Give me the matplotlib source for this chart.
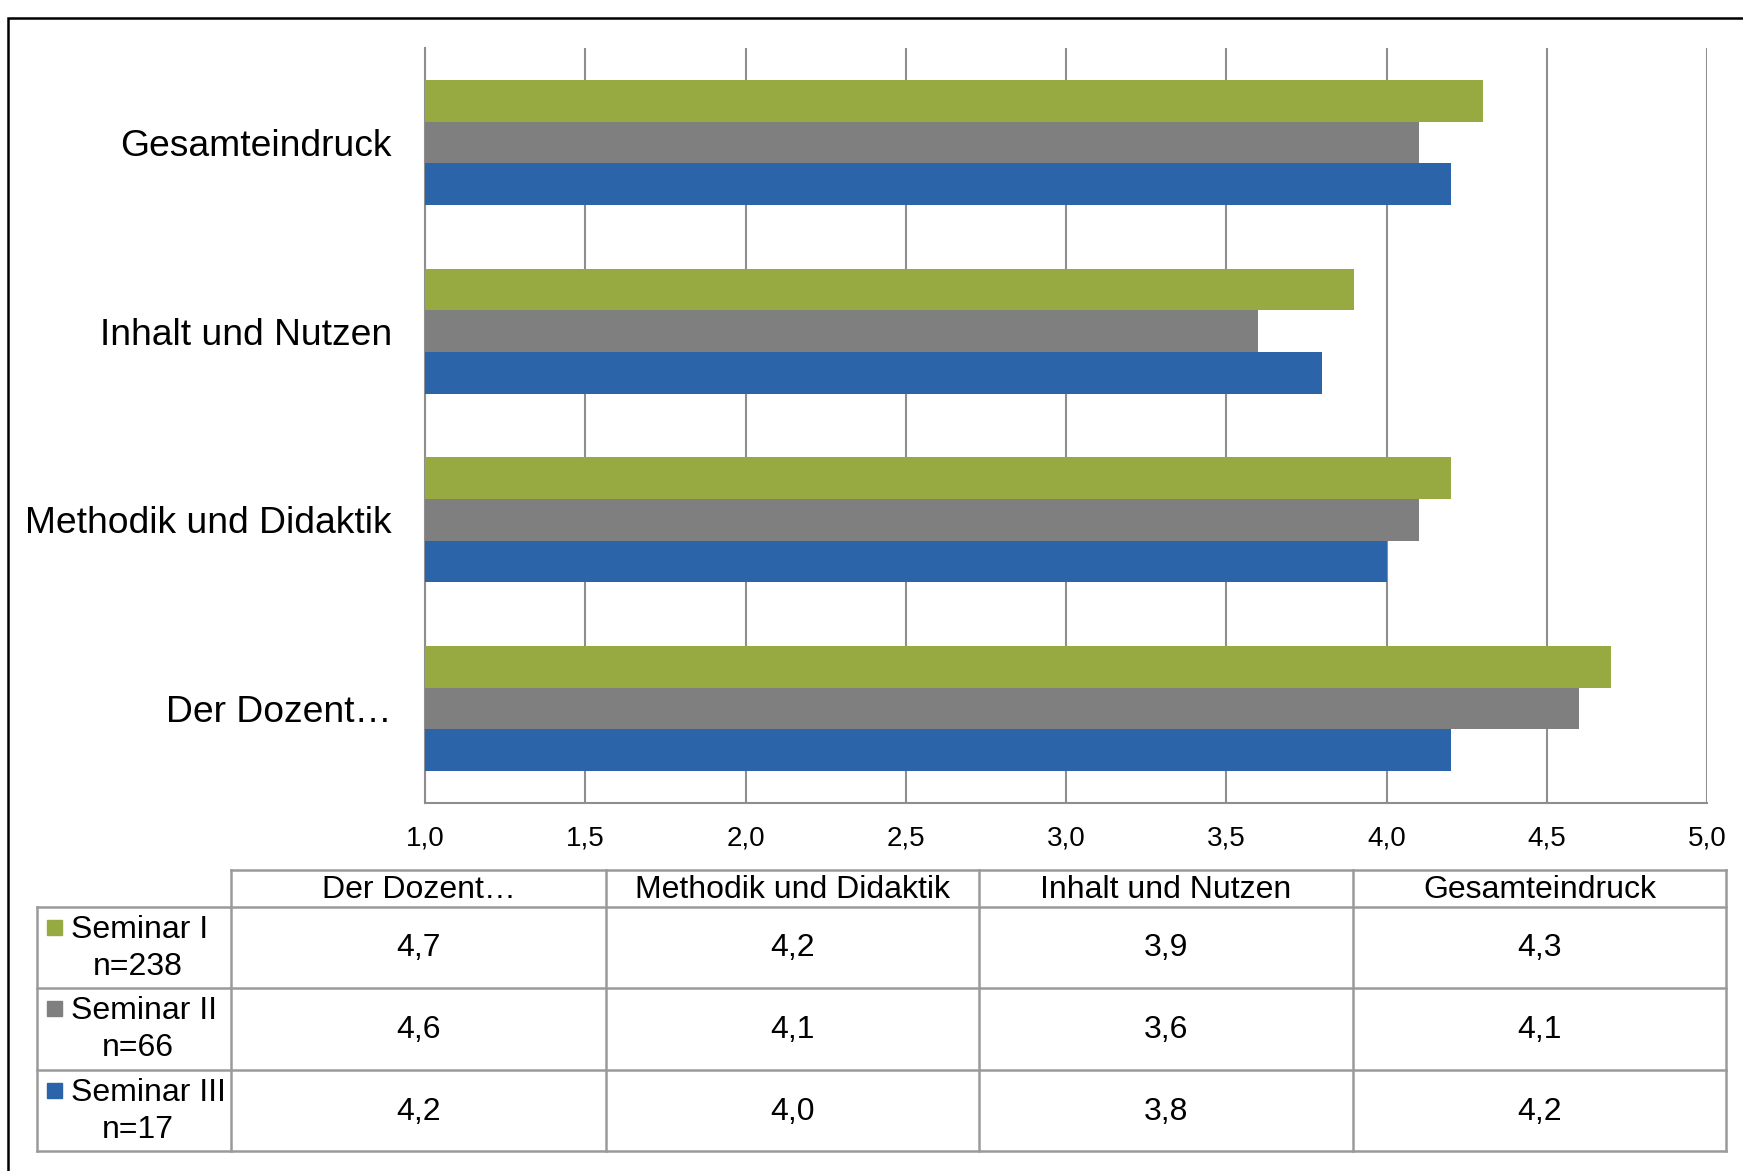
import matplotlib
matplotlib.use("Agg")
import matplotlib.pyplot as plt
import numpy as np

plt.rcParams['font.family'] = ['Liberation Sans', 'DejaVu Sans']

# data
categories = ["Der Dozent…", "Methodik und Didaktik", "Inhalt und Nutzen", "Gesamteindruck"]
series_names = ["Seminar I", "Seminar II", "Seminar III"]
series_n = ["n=238", "n=66", "n=17"]
seminar_1 = [4.7, 4.2, 3.9, 4.3]
seminar_2 = [4.6, 4.1, 3.6, 4.1]
seminar_3 = [4.2, 4.0, 3.8, 4.2]
x_ticks = [1.0, 1.5, 2.0, 2.5, 3.0, 3.5, 4.0, 4.5, 5.0]

series = [seminar_1, seminar_2, seminar_3]
colors = ["#97aa42", "#7f7f7f", "#2b64a9"]
grid_col = "#8e8e8e"
line_col = "#9a9a9a"

W, H = 1743, 1171
fig = plt.figure(figsize=(W / 100, H / 100), dpi=100)

# overlay in pixel coordinates for frame and table
ov = fig.add_axes([0, 0, 1, 1])
ov.set_xlim(0, W)
ov.set_ylim(H, 0)
ov.axis("off")

# chart
ax = fig.add_axes([425 / W, 1 - 803 / H, (1707 - 425) / W, (803 - 48) / H])
y = np.arange(len(categories))
bh = 0.221
offsets = [bh, 0, -bh]
for vals, off, col in zip(series, offsets, colors):
  ax.barh(y + off, [v - 1.0 for v in vals], left=1.0, height=bh, color=col, zorder=3)

ax.set_xlim(1.0, 5.0)
ax.set_ylim(-0.5, len(categories) - 0.5)
ax.set_xticks(x_ticks)
ax.set_xticklabels([f"{t:.1f}".replace(".", ",") for t in x_ticks], fontsize=20)
ax.set_yticks(y)
ax.set_yticklabels(categories, fontsize=26.8)
ax.tick_params(axis="x", length=0, pad=16)
ax.tick_params(axis="y", length=0, pad=24)
ax.xaxis.grid(True, color=grid_col, linewidth=1.5, zorder=1)
ax.set_axisbelow(True)
for s in ["top", "right"]:
  ax.spines[s].set_visible(False)
for s in ["left", "bottom"]:
  ax.spines[s].set_color(grid_col)
  ax.spines[s].set_linewidth(1.5)

# outer frame (clipped at right and bottom)
ov.plot([8, 8, W + 10], [H + 10, 18, 18], color="black", linewidth=1.8, solid_joinstyle="miter")

# data table below chart
col_edges = [231, 606, 979, 1353, 1726]
row_edges = [907, 988, 1070, 1151]
head_top = 870
rh_left = 37
lw = 1.8
fs = 23

# header row borders
ov.plot([col_edges[0], col_edges[-1]], [head_top, head_top], color=line_col, lw=lw)
for xe in col_edges:
  ov.plot([xe, xe], [head_top, row_edges[-1]], color=line_col, lw=lw)
for ye in row_edges:
  ov.plot([rh_left, col_edges[-1]], [ye, ye], color=line_col, lw=lw)
ov.plot([rh_left, rh_left], [row_edges[0], row_edges[-1]], color=line_col, lw=lw)

for j, cat in enumerate(categories):
  xc = (col_edges[j] + col_edges[j + 1]) / 2
  ov.text(xc, (head_top + row_edges[0]) / 2 + 2, cat, fontsize=fs, ha="center", va="center")

for i, (name, n, vals, col) in enumerate(zip(series_names, series_n, series, colors)):
  top = row_edges[i]
  ov.add_patch(plt.Rectangle((47, top + 13), 15, 15, color=col))
  ov.text(71, top + 23, name, fontsize=fs, ha="left", va="center")
  ov.text(138, top + 60, n, fontsize=fs, ha="center", va="center")
  yc = (row_edges[i] + row_edges[i + 1]) / 2 + 1
  for j, v in enumerate(vals):
    xc = (col_edges[j] + col_edges[j + 1]) / 2
    ov.text(xc, yc, f"{v:.1f}".replace(".", ","), fontsize=fs, ha="center", va="center")

fig.savefig("out.png", dpi=100)
